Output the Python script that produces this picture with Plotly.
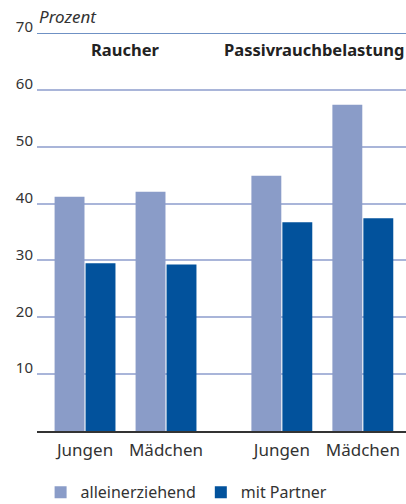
import plotly.graph_objects as go

categories = ["Jungen", "Mädchen", "Jungen", "Mädchen"]
groups = ["Raucher", "Passivrauchbelastung"]
alleinerziehend = [41.2, 42.1, 44.9, 57.4]
mit_partner = [29.5, 29.3, 36.7, 37.4]
y_ticks = [10, 20, 30, 40, 50, 60, 70]
y_ticktext = ["10", "20", "30", "40", "50", "60", "70"]

# category slot positions (second group set apart by a wider gap)
x_pos = [0, 1, 2.43, 3.43]

LIGHT = "#8a9cc8"
DARK = "#02529c"
FONT = "Noto Sans"

fig = go.Figure()
fig.add_trace(go.Bar(x=x_pos, y=alleinerziehend, name="alleinerziehend",
                     marker=dict(color=LIGHT, line=dict(width=0))))
fig.add_trace(go.Bar(x=x_pos, y=mit_partner, name="mit Partner",
                     marker=dict(color=DARK, line=dict(width=0))))

fig.update_layout(
    width=406, height=504,
    margin=dict(l=37, r=0, t=33, b=73, autoexpand=False),
    paper_bgcolor="white", plot_bgcolor="white",
    barmode="group", bargap=0.235, bargroupgap=0.035,
    font=dict(family=FONT, color="#333333", size=16),
    showlegend=True,
    legend=dict(orientation="h", xref="container", yref="container",
                x=0.1, y=0.057, xanchor="left", yanchor="top",
                font=dict(size=16, color="#333333"),
                itemwidth=30, tracegroupgap=0, traceorder="normal"),
    xaxis=dict(range=[-0.593, 3.963], tickmode="array", tickvals=x_pos,
               ticktext=categories, showgrid=False, zeroline=False,
               showline=True, linecolor="#333333", linewidth=1.5,
               ticks="", ticklabelstandoff=3, tickangle=0, automargin=False,
               tickfont=dict(size=17, color="#333333")),
    yaxis=dict(range=[0, 70], tickmode="array", tickvals=y_ticks,
               ticktext=y_ticktext, showgrid=True, gridcolor="#a9b5d9",
               gridwidth=1.5, zeroline=False, showline=False, ticks="",
               ticklabelshift=-6, ticklabelstandoff=3, automargin=False,
               tickfont=dict(size=15, color="#333333")),
    shapes=[dict(type="line", xref="paper", yref="y", x0=0, x1=1, y0=70, y1=70,
                 line=dict(color="#3f6db0", width=1.5), layer="above")],
    annotations=[
        dict(text="<i>Prozent</i>", xref="paper", yref="paper", x=0, y=1,
             xanchor="left", yanchor="bottom", showarrow=False, yshift=3,
             font=dict(size=17, color="#333333")),
        dict(text="<b>" + groups[0] + "</b>", xref="x", yref="paper",
             x=(x_pos[0] + x_pos[1]) / 2, y=1, yshift=-3, xanchor="center",
             yanchor="top", showarrow=False, font=dict(size=16.5, color="#222222")),
        dict(text="<b>" + groups[1] + "</b>", xref="paper", yref="paper",
             x=1, y=1, yshift=-3, xanchor="right", yanchor="top",
             showarrow=False, font=dict(size=16.5, color="#222222")),
    ],
)

fig.write_html("out.html", config={"displayModeBar": False},
               post_script="document.body.style.margin='0';document.body.style.overflow='hidden';")
